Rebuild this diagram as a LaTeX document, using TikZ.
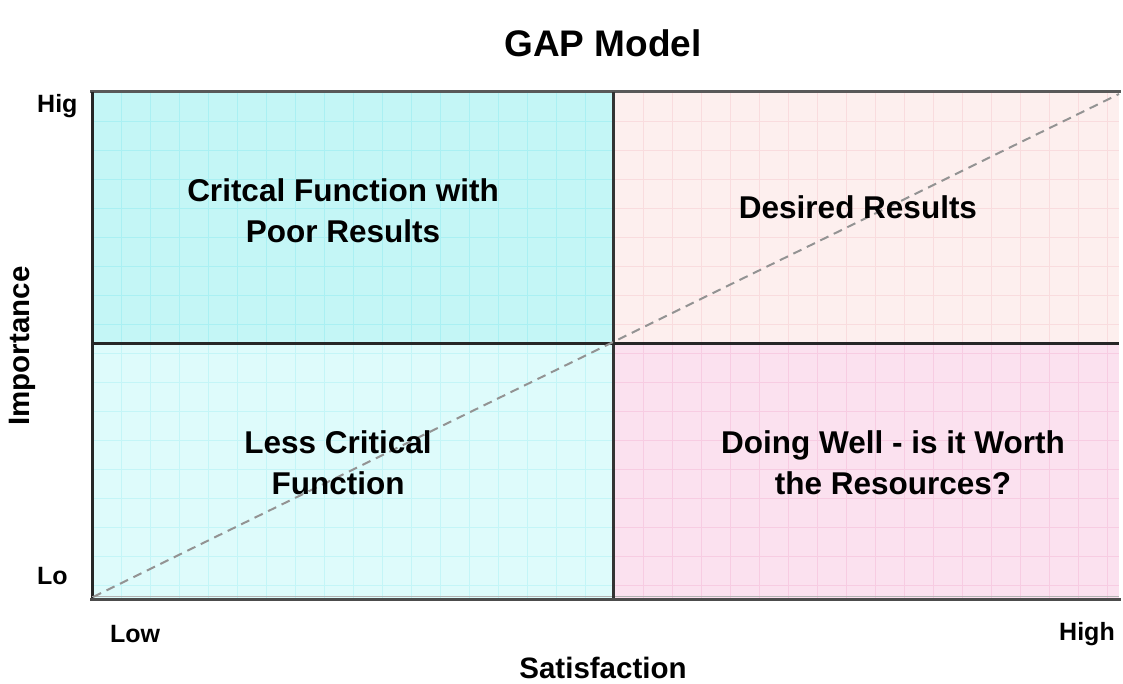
\documentclass[tikz,border=0pt]{standalone}
\usepackage{fontspec}
\setmainfont{Liberation Sans}
\definecolor{tlc}{RGB}{196,246,246}
\definecolor{blc}{RGB}{222,251,251}
\definecolor{trc}{RGB}{253,239,238}
\definecolor{brc}{RGB}{251,225,239}
\definecolor{tlg}{RGB}{170,240,243}
\definecolor{blg}{RGB}{196,245,247}
\definecolor{trg}{RGB}{249,220,222}
\definecolor{brg}{RGB}{247,204,226}
\tikzset{
  quad/.style={font=\bfseries\fontsize{31.5}{40.5}\selectfont, align=center, inner sep=0pt},
  axlab/.style={font=\bfseries\fontsize{25}{28}\selectfont, inner sep=0pt},
  axtitle/.style={font=\bfseries\fontsize{29.5}{34}\selectfont, inner sep=0pt},
  border/.style={line width=3pt},
  gridline/.style={line width=0.6pt},
}
\newcommand{\quadgrid}[5]{%
  \begin{scope}
  \clip (#1,#2) rectangle (#3,#4);
  \foreach \gx in {92,121,...,1119} \draw[gridline,#5] (\gx,92) -- (\gx,598);
  \foreach \gy in {92,121,...,598} \draw[gridline,#5] (92,\gy) -- (1119,\gy);
  \end{scope}}
\begin{document}
\begin{tikzpicture}[x=1pt,y=-1pt]
\useasboundingbox (0,0) rectangle (1123,683);
% fills
\fill[tlc] (92,92) rectangle (613,343);
\fill[trc] (613,92) rectangle (1119,343);
\fill[blc] (92,343) rectangle (613,598);
\fill[brc] (613,343) rectangle (1119,598);
% grids
\quadgrid{92}{92}{613}{343}{tlg}
\quadgrid{613}{92}{1119}{343}{trg}
\quadgrid{92}{343}{613}{598}{blg}
\quadgrid{613}{343}{1119}{598}{brg}
% borders
\draw[border, black!65] (90,91) -- (1121,91);
\draw[border, black!85] (92,92) -- (92,599);
\draw[border, black!70] (90,599) -- (1121,599);
\draw[line width=1.5pt, gray!60] (92,596.5) -- (1119,596.5);
\draw[border, black!80] (613,92) -- (613,598);
\draw[border, black!70!gray] (92,343) -- (1119,343);
% diagonal
\coordinate (D0) at (93,597);
\coordinate (D1) at (1119,94);
\draw[gray!85, line width=2pt, dash pattern=on 9pt off 6pt] (D0) -- (D1);
% texts
\node[font=\bfseries\fontsize{37}{42}\selectfont, inner sep=0pt, anchor=base] (title) at (603,56) {GAP Model};
\node[quad, anchor=base] (tl) at (343,242) {Critcal Function with\\Poor Results};
\node[quad, anchor=base] (tr) at (858,218) {Desired Results};
\node[quad, anchor=base] (bl) at (338,494) {Less Critical\\Function};
\node[quad, anchor=base] (br) at (893,494) {Doing Well - is it Worth\\the Resources?};
\node[axlab, anchor=west] (hig) at (37,106) {Hig};
\node[axlab, anchor=west] (lo) at (37,576) {Lo};
\node[axlab] (low) at (135,634) {Low};
\node[axlab] (high) at (1087,634) {High};
\node[axtitle] (sat) at (603,668) {Satisfaction};
\node[axtitle, rotate=90] (imp) at (22,346) {Importance};
\end{tikzpicture}
\end{document}
